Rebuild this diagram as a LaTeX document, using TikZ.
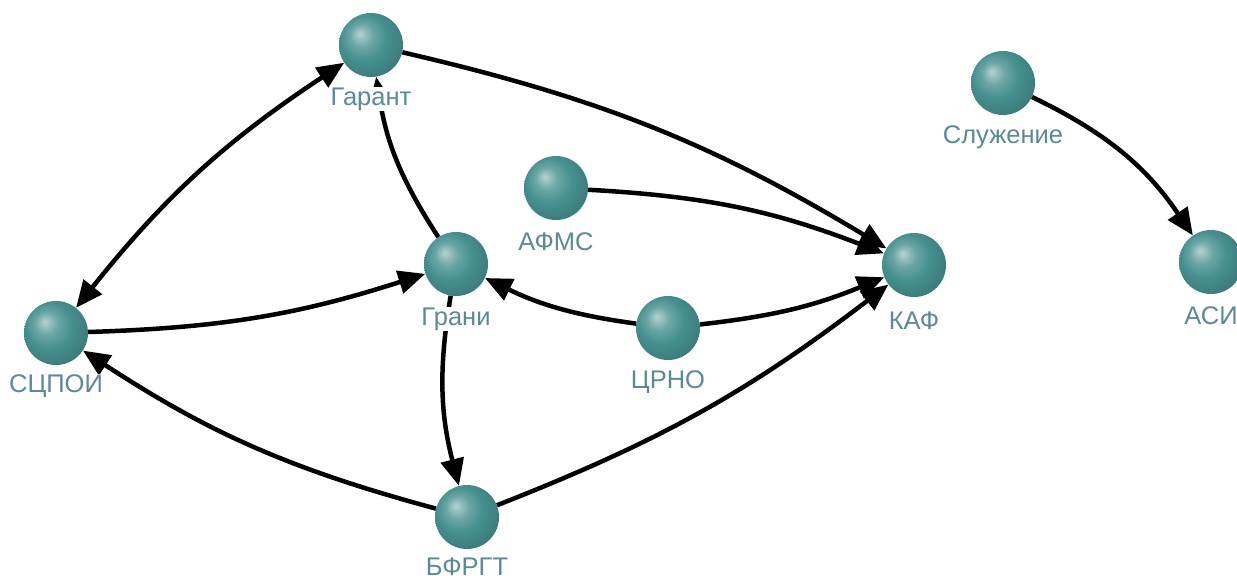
\documentclass[tikz,border=0pt]{standalone}
\usepackage{fontspec}
\setmainfont{Liberation Sans}
\usetikzlibrary{arrows.meta}
\definecolor{sph}{HTML}{45908F}
\definecolor{lblc}{HTML}{5A8B94}
\pgfdeclareradialshading{tealball}{\pgfpoint{-9bp}{9bp}}{color(0bp)=(sph!40!white); color(9bp)=(sph!80!white); color(18bp)=(sph); color(28bp)=(sph!88!black); color(37bp)=(sph!75!black); color(50bp)=(sph!70!black)}
\tikzset{
  ballnode/.style={circle, minimum size=64pt, inner sep=0pt, shade, shading=tealball},
  conn/.style={line width=4.5pt, draw=black},
  >={Triangle[length=27pt,width=23pt]},
  lbl/.style={fill=white, text=lblc, inner sep=1pt, font=\fontsize{25.5}{29}\selectfont}
}
\begin{document}
\begin{tikzpicture}[x=1pt,y=-1pt]
\useasboundingbox (0,0) rectangle (1237,581);
\clip (0,0) rectangle (1237,581);
\fill[white] (0,0) rectangle (1237,581);
% spheres
\node[ballnode] (gar) at (371,45) {};
\node[ballnode] (slu) at (1003,83) {};
\node[ballnode] (afm) at (556,188) {};
\node[ballnode] (gra) at (456,264) {};
\node[ballnode] (kaf) at (914,265) {};
\node[ballnode] (scp) at (56,333) {};
\node[ballnode] (crn) at (668,328) {};
\node[ballnode] (bfr) at (467,517) {};
\node[ballnode] (asi) at (1211,262) {};
% connectors
\draw[conn,<->] (scp) to[bend left=9] (gar);
\draw[conn,->] (gar) to[bend left=9] (kaf);
\draw[conn,->] (afm) to[bend left=9] (kaf);
\draw[conn,->] (gra) to[bend left=12] (gar);
\draw[conn,->] (scp) to[bend right=8] (gra);
\draw[conn,->] (crn) to[bend left=9] (gra);
\draw[conn,->] (crn) to[bend right=8] (kaf);
\draw[conn,->] (gra) to[bend right=12] (bfr);
\draw[conn,->] (bfr) to[bend left=9] (scp);
\draw[conn,->] (bfr) to[bend right=8] (kaf);
\draw[conn,->] (slu) to[bend left=15] (asi);
% labels
\path (gar) ++(0,54) node[lbl] (garl) {Гарант};
\path (slu) ++(0,54) node[lbl] (slul) {Служение};
\path (afm) ++(0,54) node[lbl] (afml) {АФМС};
\path (gra) ++(0,55) node[lbl] (gral) {Грани};
\path (kaf) ++(0,56) node[lbl] (kafl) {КАФ};
\path (scp) ++(0,53) node[lbl] (scpl) {СЦПОИ};
\path (crn) ++(0,54) node[lbl] (crnl) {ЦРНО};
\path (bfr) ++(0,50) node[lbl] (bfrl) {БФРГТ};
\path (asi) ++(0,54) node[lbl] (asil) {АСИ};
\end{tikzpicture}
\end{document}
